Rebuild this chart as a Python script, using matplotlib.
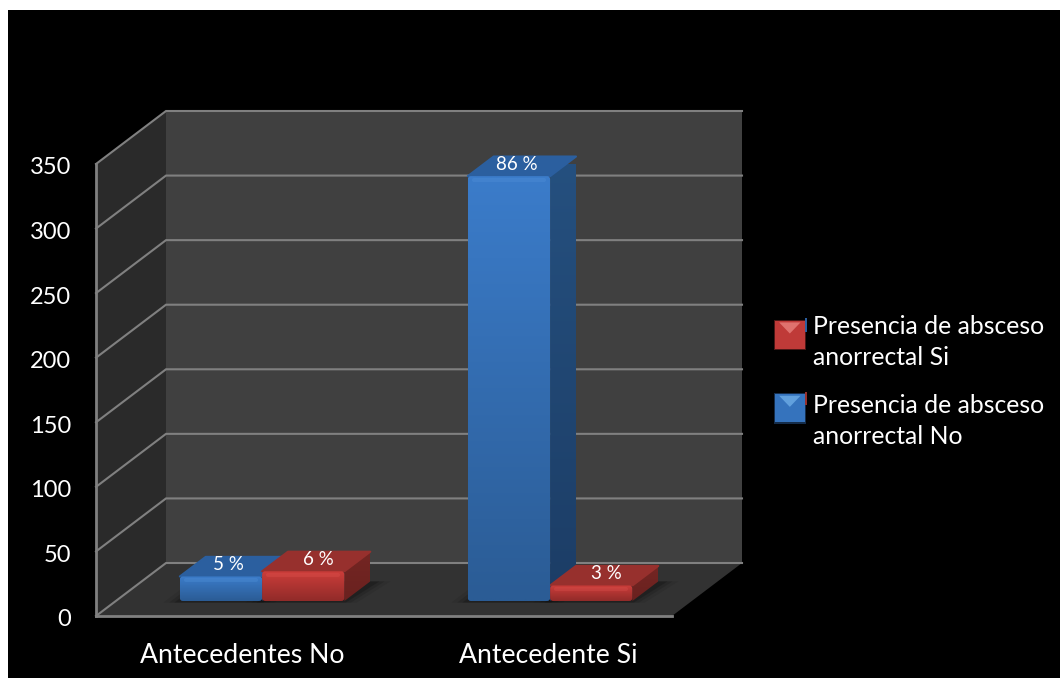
import numpy as np
import matplotlib
matplotlib.use("Agg")
import matplotlib.pyplot as plt
from matplotlib.patches import Rectangle, Polygon, FancyBboxPatch
from matplotlib.legend_handler import HandlerBase
from matplotlib.transforms import ScaledTranslation

categories = ["Antecedentes No", "Antecedente Si"]
absceso_no = [19, 329]
absceso_si = [23, 12]
labels_no = ["5 %", "86 %"]
labels_si = ["6 %", "3 %"]
y_ticks = [0, 50, 100, 150, 200, 250, 300, 350]
legend_labels = ["Presencia de absceso\nanorrectal Si", "Presencia de absceso\nanorrectal No"]

W, H = 1060, 678
plt.rcParams['font.family'] = ['Lato', 'DejaVu Sans']

# front plane of the 3d box, in pixels
LEFT, RIGHT, TOP, BOTTOM = 96, 672, 164, 616
PX_X = 2 / (RIGHT - LEFT)                  # category units per pixel
PX_Y = 350 / (BOTTOM - TOP)                # value units per pixel
DEPTH_X = 70 * PX_X
DEPTH_Y = 53 * PX_Y
BAR_W = 2 / 7                              # gap width 150%
BAR_D0, BAR_D1 = 15 / 53, 0.653            # where bars sit along the depth

fig = plt.figure(figsize=(W / 100, H / 100), dpi=100, facecolor="white")
fig.add_artist(Rectangle((8 / W, 0), 1, 1 - 10 / H, transform=fig.transFigure,
                         facecolor="black", edgecolor="none", zorder=-5))

ax = fig.add_axes([LEFT / W, 1 - BOTTOM / H, (RIGHT - LEFT) / W, (BOTTOM - TOP) / H])
ax.patch.set_visible(False)


def proj(x, v, d):
    return x + d * DEPTH_X, v + d * DEPTH_Y


def face(pts, color, z, alpha=1.0, rounded=False):
    p = Polygon(pts, closed=True, facecolor=color, edgecolor=color if rounded else "none",
                linewidth=1.5 if rounded else 0, joinstyle="round", zorder=z, alpha=alpha, clip_on=False)
    ax.add_patch(p)
    return p


def gradient_face(x0, x1, v0, v1, top_col, bot_col, z, clip):
    c0 = np.array(matplotlib.colors.to_rgb(top_col))
    c1 = np.array(matplotlib.colors.to_rgb(bot_col))
    t = np.linspace(0, 1, 64)[:, None, None]
    img = c0[None, None, :] * (1 - t) + c1[None, None, :] * t
    im = ax.imshow(img, extent=(x0, x1, v0, v1), aspect="auto", zorder=z, interpolation="bilinear")
    clip.set_visible(False)
    ax.add_patch(clip)
    im.set_clip_path(clip)
    return im


# walls and floor
face([proj(0, 0, 0), proj(0, 350, 0), proj(0, 350, 1), proj(0, 0, 1)], "#2a2a2a", 1)
face([proj(0, 0, 0), proj(2, 0, 0), proj(2, 0, 1), proj(0, 0, 1)], "#323232", 1)
face([proj(0, 0, 1), proj(2, 0, 1), proj(2, 350, 1), proj(0, 350, 1)], "#404040", 1)

GRID = "#808080"
for v in y_ticks:
    xs, ys = zip(proj(0, v, 0), proj(0, v, 1), proj(2, v, 1))
    ax.plot(xs, ys, color=GRID, lw=1.5, zorder=2, clip_on=False, solid_joinstyle="miter")

for s in ["top", "right"]:
    ax.spines[s].set_visible(False)
for s in ["left", "bottom"]:
    ax.spines[s].set_color(GRID)
    ax.spines[s].set_linewidth(2)
    ax.spines[s].set_zorder(3)


def draw_bar(x, v, front_top, front_bot, top_col, side_top, side_bot, shine, label, label_dx):
    d0, d1 = BAR_D0, BAR_D1
    # soft shadow on the floor
    for grow, a in [(0.05, 0.08), (0.03, 0.12), (0.012, 0.18)]:
        face([proj(x - grow, 0, d0 - 0.03), proj(x + BAR_W + grow, 0, d0 - 0.03),
              proj(x + BAR_W + grow + 0.02, 0, d1), proj(x - grow, 0, d1)], "black", 3, a)
    # side
    side = Polygon([proj(x + BAR_W, 0, d0), proj(x + BAR_W, v, d0), proj(x + BAR_W, v, d1), proj(x + BAR_W, 0, d1)],
                   closed=True, transform=ax.transData)
    gradient_face(proj(x + BAR_W, 0, d0)[0], proj(x + BAR_W, 0, d1)[0], proj(0, 0, d0)[1], proj(0, v, d1)[1],
                  side_top, side_bot, 4, side)
    # top
    face([proj(x, v, d0), proj(x + BAR_W, v, d0), proj(x + BAR_W, v, d1), proj(x, v, d1)], top_col, 5, rounded=True)
    # front
    fx, base = proj(x, 0, d0)
    front_h = proj(x, v, d0)[1]
    r = 3 * PX_X
    aspect = PX_Y / PX_X
    clip = FancyBboxPatch((fx + r, base + r * aspect), BAR_W - 2 * r, front_h - base - 2 * r * aspect,
                          boxstyle=f"round,pad={r},rounding_size={r}", mutation_aspect=aspect,
                          transform=ax.transData)
    gradient_face(fx, fx + BAR_W, base, front_h, front_top, front_bot, 6, clip)
    # lighter bevel just under the top edge
    ax.plot([fx + 2 * r, fx + BAR_W - 2 * r], [front_h - 3.5 * PX_Y] * 2, color=shine, lw=3, alpha=0.25,
            zorder=7, solid_capstyle="round")
    # label on the top face
    lx, ly = proj(x + BAR_W / 2, v, (d0 + d1) / 2)
    ax.text(lx + label_dx * PX_X, ly + 2 * PX_Y, label, color="white", fontsize=13.5,
            ha="center", va="center", zorder=8)


for i in range(len(categories)):
    center = i + 0.5 + 0.008
    draw_bar(center - BAR_W, absceso_no[i], "#3b7cca", "#2b5c95", "#2b5f9f", "#25507f", "#1c3d66", "#5a9ae0",
             labels_no[i], -5)
    draw_bar(center, absceso_si[i], "#cc3d3a", "#912b29", "#97302d", "#742623", "#6a211f", "#e85a56",
             labels_si[i], 2)

ax.set_xlim(0, 2)
ax.set_ylim(0, 350)
# the labels do not sit right under the bars in the original
ax.set_xticks([0.509, 1.571])
ax.set_xticklabels(categories, color="white", fontsize=19.2)
ax.set_yticks(y_ticks)
ax.set_yticklabels([str(v) for v in y_ticks], color="white", fontsize=17)
ax.tick_params(axis="x", length=0, pad=19.5)
ax.tick_params(axis="y", length=0, pad=18)
nudge = ScaledTranslation(0, -2 / 100, fig.dpi_scale_trans)
for lbl in ax.get_yticklabels():
    lbl.set_transform(lbl.get_transform() + nudge)


class SwatchHandler(HandlerBase):
    def __init__(self, dy, tick_color):
        super().__init__()
        self.dy = dy
        self.tick_color = tick_color

    def create_artists(self, legend, orig, xd, yd, width, height, fontsize, trans):
        c = orig.get_facecolor()
        hi = orig.get_edgecolor()
        y0 = self.dy
        y1 = y0 + 20
        glow = Rectangle((-1, y0 - 1), width + 2, 22, facecolor=c, edgecolor="none", alpha=0.4, transform=trans)
        rect = Rectangle((0, y0), width, 20, facecolor=c, edgecolor="none", transform=trans)
        tri = Polygon([(3, y1 - 1), (width - 3, y1 - 1), (width / 2, y1 - 9)], facecolor=hi, edgecolor="none",
                      alpha=0.7, transform=trans)
        tick = Rectangle((width + 0.5, y1 - 8), 1, 10, facecolor=self.tick_color, edgecolor="none", transform=trans)
        return [glow, rect, tri, tick]


red_handle = Rectangle((0, 0), 1, 1, facecolor="#bf3a38", edgecolor="#ee8a86")
blue_handle = Rectangle((0, 0), 1, 1, facecolor="#3573bd", edgecolor="#74b4ec")
leg = fig.legend([red_handle, blue_handle], legend_labels, loc="upper left", bbox_to_anchor=(775 / W, 1 - 315 / H),
                 bbox_transform=fig.transFigure, frameon=False, fontsize=17.8, labelcolor="white",
                 handler_map={red_handle: SwatchHandler(2, "#2b5f9f"), blue_handle: SwatchHandler(6, "#97302d")},
                 handlelength=1.2, handletextpad=0.35, labelspacing=1.0, borderpad=0, borderaxespad=0)
for t in leg.get_texts():
    t.set_linespacing(1.43)

fig.savefig("out.png", dpi=100, facecolor=fig.get_facecolor())
